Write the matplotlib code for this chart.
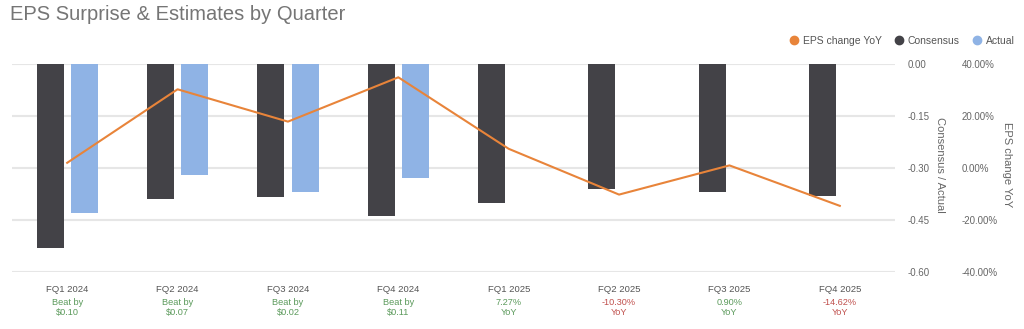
import matplotlib.pyplot as plt
import matplotlib.transforms as mtransforms
from matplotlib.lines import Line2D
import numpy as np

quarters = ["FQ1 2024", "FQ2 2024", "FQ3 2024", "FQ4 2024",
            "FQ1 2025", "FQ2 2025", "FQ3 2025", "FQ4 2025"]
consensus = [-0.53, -0.39, -0.385, -0.44, -0.40, -0.36, -0.37, -0.38]
actual = [-0.43, -0.32, -0.37, -0.33]
eps_yoy = [1.9, 30.1, 17.7, 34.7, 7.27, -10.30, 0.90, -14.62]
surprise_top = ["Beat by", "Beat by", "Beat by", "Beat by",
                "7.27%", "-10.30%", "0.90%", "-14.62%"]
surprise_bottom = ["$0.10", "$0.07", "$0.02", "$0.11", "YoY", "YoY", "YoY", "YoY"]
surprise_good = [True, True, True, True, True, False, True, False]

dark = "#434247"
blue = "#8fb3e5"
orange = "#e8843a"
green = "#5b9a5b"
red = "#c0504d"
grey = "#666666"

plt.rcParams["font.family"] = ["Liberation Sans", "DejaVu Sans"]

fig = plt.figure(figsize=(10.24, 3.29), dpi=100)
ax = fig.add_axes([12 / 1024, 1 - 272 / 329, 883 / 1024, (272 - 63.5) / 329])

x = np.arange(len(quarters))
w = 0.245
off = 0.155
ax.bar(x - off, consensus, width=w, color=dark, zorder=2)
ax.bar(x[:len(actual)] + off, actual, width=w, color=blue, zorder=2)

ax.set_xlim(-0.5, len(quarters) - 0.5)
ax.set_ylim(-0.6, 0.0)
ax.set_yticks([0.0, -0.15, -0.30, -0.45, -0.60])
ax.set_yticklabels(["0.00", "-0.15", "-0.30", "-0.45", "-0.60"])
ax.grid(axis="y", color="#e6e6e6", linewidth=1.5, zorder=0)
for s in ax.spines.values():
    s.set_visible(False)

ax.set_xticks(x)
ax.set_xticklabels(quarters)
ax.tick_params(axis="x", length=0, pad=9.5, labelsize=6.8, labelcolor="#555555")

trans = mtransforms.blended_transform_factory(ax.transData, fig.transFigure)
for i in range(len(quarters)):
    c = green if surprise_good[i] else red
    ax.text(x[i], 1 - 302.5 / 329, surprise_top[i], transform=trans, ha="center",
            va="center", fontsize=6.6, color=c)
    ax.text(x[i], 1 - 312.5 / 329, surprise_bottom[i], transform=trans, ha="center",
            va="center", fontsize=6.6, color=c)

ax2 = ax.twinx()
ax2.plot(x, eps_yoy, color=orange, linewidth=1.5, zorder=3)
ax2.set_ylim(-40, 40)
ax2.set_yticks([40, 20, 0, -20, -40])
ax2.set_yticklabels(["40.00%", "20.00%", "0.00%", "-20.00%", "-40.00%"])
ax2.tick_params(axis="y", length=0, pad=48, labelsize=7, labelcolor=grey)
for s in ax2.spines.values():
    s.set_visible(False)

# twinx moves the first axis' ticks to the left, put them back on the right
ax.yaxis.tick_right()
ax.tick_params(axis="y", length=0, pad=9, labelsize=7, labelcolor=grey)

fig.text(940 / 1024, 1 - 165 / 329, "Consensus / Actual", rotation=270,
         ha="center", va="center", fontsize=8, color=grey)
fig.text(1007 / 1024, 1 - 165 / 329, "EPS change YoY", rotation=270,
         ha="center", va="center", fontsize=8, color=grey)

fig.text(10 / 1024, 1 - 14 / 329, "EPS Surprise & Estimates by Quarter",
         ha="left", va="center", fontsize=14.5, color="#757575")

handles = [Line2D([], [], marker="o", linestyle="", markersize=6, color=orange),
           Line2D([], [], marker="o", linestyle="", markersize=6, color=dark),
           Line2D([], [], marker="o", linestyle="", markersize=6, color=blue)]
leg = fig.legend(handles, ["EPS change YoY", "Consensus", "Actual"], ncol=3,
                 loc="center right", bbox_to_anchor=(1.0, 1 - 41 / 329),
                 frameon=False, fontsize=7.5, handletextpad=0.3,
                 columnspacing=1.2, handlelength=1.0)
for t in leg.get_texts():
    t.set_color("#555555")

fig.savefig("out.png", dpi=100)
